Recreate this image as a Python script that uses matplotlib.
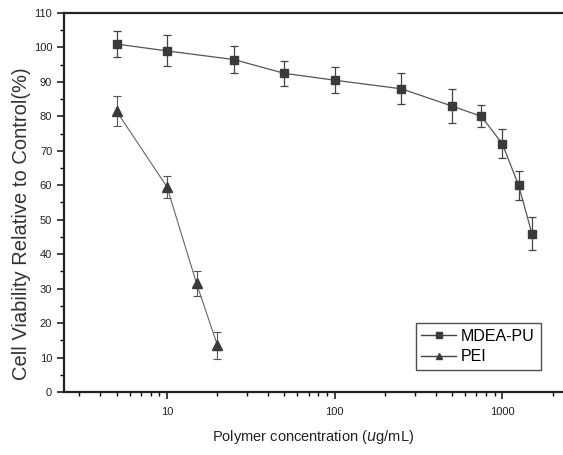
import matplotlib.pyplot as plt
from matplotlib.lines import Line2D
from matplotlib.ticker import LogLocator, MultipleLocator, FixedLocator, NullFormatter

plt.rcParams['font.family'] = ['Liberation Sans', 'DejaVu Sans']

# MDEA-PU
pu_conc = [5, 10, 25, 50, 100, 250, 500, 750, 1000, 1250, 1500]
pu_viab = [101, 99, 96.5, 92.5, 90.5, 88, 83, 80, 72, 60, 46]
pu_err = [3.8, 4.5, 4.0, 3.7, 3.7, 4.5, 5.0, 3.2, 4.2, 4.2, 4.7]

# PEI
pei_conc = [5, 10, 15, 20]
pei_viab = [81.5, 59.5, 31.5, 13.5]
pei_err = [4.3, 3.3, 3.7, 4.0]

fig = plt.figure(figsize=(5.63, 4.55), dpi=100)
ax = fig.add_axes([0.1137, 0.1385, 0.8863, 0.8329])

ax.errorbar(pu_conc, pu_viab, yerr=pu_err, color='#555555', lw=0.9,
            marker='s', ms=6, mfc='#3a3a3a', mec='#3a3a3a',
            elinewidth=0.9, capsize=3, capthick=0.9, ecolor='#444444')
ax.errorbar(pei_conc, pei_viab, yerr=pei_err, color='#666666', lw=0.8,
            marker='^', ms=7, mfc='#3a3a3a', mec='#3a3a3a',
            elinewidth=0.8, capsize=3, capthick=0.8, ecolor='#555555')

ax.set_xscale('log')
ax.set_xlim(2.43, 2300)
ax.set_ylim(0, 110)

ax.xaxis.set_major_locator(FixedLocator([10, 100, 1000]))
ax.xaxis.set_major_formatter(plt.FuncFormatter(lambda v, p: f"{int(v)}"))
ax.xaxis.set_minor_locator(LogLocator(base=10, subs=range(2, 10)))
ax.xaxis.set_minor_formatter(NullFormatter())
ax.yaxis.set_major_locator(MultipleLocator(10))
ax.yaxis.set_minor_locator(MultipleLocator(5))

ax.tick_params(axis='both', which='major', direction='out', length=5, width=1.2,
               labelsize=8, colors='#222222')
ax.tick_params(axis='both', which='minor', direction='out', length=3, width=1.0)
ax.tick_params(axis='x', pad=6)

for s in ['left', 'bottom', 'top']:
    ax.spines[s].set_linewidth(1.6)
    ax.spines[s].set_color('#222222')
ax.spines['right'].set_visible(False)

ax.set_xlabel('Polymer concentration ($\\it{u}$g/mL)', fontsize=10.5, color='#222222', labelpad=8)
ax.set_ylabel('Cell Viability Relative to Control(%)', fontsize=14.5, color='#333333')
ax.yaxis.set_label_coords(-0.066, 0.445)

handles = [
    Line2D([], [], color='#444444', lw=1.0, marker='s', ms=4, mfc='#3a3a3a', mec='#3a3a3a'),
    Line2D([], [], color='#444444', lw=1.0, marker='^', ms=4.5, mfc='#3a3a3a', mec='#3a3a3a'),
]
leg = ax.legend(handles, ['MDEA-PU', 'PEI'], loc='lower right', bbox_to_anchor=(0.955, 0.058),
                fontsize=11.5, frameon=True, fancybox=False, edgecolor='#222222',
                handlelength=2.2, handletextpad=0.3, borderpad=0.35, labelspacing=0.35,
                borderaxespad=0.0)
leg.get_frame().set_linewidth(1.0)

fig.savefig('out.png', dpi=100)
